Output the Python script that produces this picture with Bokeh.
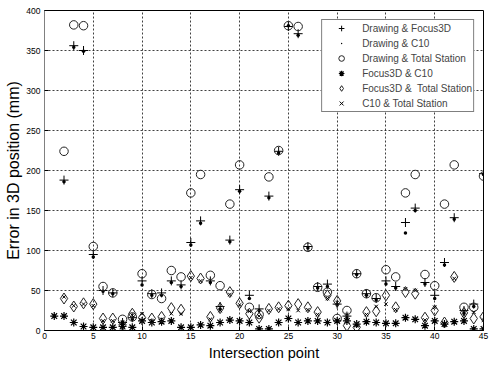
from bokeh.plotting import figure
from bokeh.models import FixedTicker, Legend
from bokeh.embed import file_html
from bokeh.resources import INLINE

nan = float("nan")
points = list(range(1, 46))
drawing_focus = [nan,188,356,350,95,50,47,10,16,62,46,47,62,57,110,137,62,30,113,176,44,27,168,224,380,371,105,55,58,33,18,71,46,40,62,55,135,153,60,44,85,141,25,33,196]
drawing_c10 = [nan,186,354,349,92,49,46,8,14,57,44,44,60,55,107,134,60,27,111,174,40,25,166,222,381,369,103,53,55,32,16,70,44,38,58,53,122,150,58,40,82,139,22,30,195]
drawing_ts = [nan,224,382,381,105,55,47,14,17,71,45,40,75,67,172,195,69,56,158,207,29,20,192,225,381,380,104,54,48,15,25,71,46,41,76,67,172,195,70,56,158,207,29,29,193]
focus_c10 = [18,18,10,5,4,4,4,5,4,12,10,11,12,4,4,7,6,10,13,12,10,2,2,10,15,10,12,12,10,12,12,8,11,10,9,9,16,14,6,12,8,11,12,2,2]
focus_ts = [nan,40,30,34,33,15,15,7,21,16,15,17,28,26,68,65,17,28,48,34,21,16,27,29,31,33,29,23,44,37,6,4,23,24,44,29,48,46,16,25,10,67,22,15,17]
c10_ts = [nan,42,31,33,31,12,12,10,19,21,12,14,21,21,66,62,14,25,45,32,24,18,25,27,27,25,26,20,40,35,20,6,20,30,33,26,52,50,13,29,8,65,19,23,13]

x_ticks = list(range(0, 46, 5))
y_ticks = list(range(0, 401, 50))

FONT = "Liberation Sans"

p = figure(width=500, height=365, output_backend="svg", toolbar_location=None,
           x_range=(0, 45), y_range=(0, 400),
           min_border_left=44, min_border_right=17, min_border_top=10, min_border_bottom=35)
p.outline_line_color = "black"
p.background_fill_color = "white"

for ax in (p.xaxis[0], p.yaxis[0]):
    ax.major_tick_in = 4
    ax.major_tick_out = 0
    ax.minor_tick_line_color = None
    ax.major_label_text_font = FONT
    ax.major_label_text_font_size = "8.5px"
    ax.major_label_text_color = "black"
    ax.axis_label_text_font = FONT
    ax.axis_label_text_font_style = "normal"
    ax.axis_label_text_color = "black"
p.yaxis[0].axis_line_color = "#808080"
p.xaxis[0].axis_line_color = "black"
p.xaxis[0].ticker = FixedTicker(ticks=x_ticks)
p.yaxis[0].ticker = FixedTicker(ticks=y_ticks)
p.xaxis[0].axis_label = "Intersection point"
p.yaxis[0].axis_label = "Error in 3D position (mm)"
p.xaxis[0].axis_label_text_font_size = "14.5px"
p.yaxis[0].axis_label_text_font_size = "16px"
p.xaxis[0].major_label_standoff = 2
p.yaxis[0].major_label_standoff = 4
p.xaxis[0].axis_label_standoff = 3
p.yaxis[0].axis_label_standoff = 1

p.xgrid.ticker = FixedTicker(ticks=x_ticks)
p.ygrid.ticker = FixedTicker(ticks=y_ticks)
for g in (p.xgrid[0], p.ygrid[0]):
    g.grid_line_color = "black"
    g.grid_line_dash = "2 2"
    g.grid_line_width = 1
    g.grid_line_alpha = 0.75

r1 = p.scatter(points, drawing_focus, marker="cross", size=9, line_color="black", line_width=1)
r2 = p.scatter(points, drawing_c10, marker="dot", size=14, line_color="black", fill_color="black")
r3 = p.scatter(points, drawing_ts, marker="circle", size=8.5, line_color="#222222", fill_color=None, line_width=1)
r4 = p.scatter(points, focus_c10, marker="asterisk", size=8, line_color="black", line_width=1.2)
r5 = p.scatter(points, focus_ts, marker="diamond", size=11, line_color="#222222", fill_color=None, line_width=1)
r6 = p.scatter(points, c10_ts, marker="x", size=5, line_color="black", line_width=1)

legend = Legend(items=[
    ("Drawing & Focus3D", [r1]),
    ("Drawing & C10", [r2]),
    ("Drawing & Total Station", [r3]),
    ("Focus3D & C10", [r4]),
    ("Focus3D &  Total Station", [r5]),
    ("C10 & Total Station", [r6]),
], location="top_right")
legend.label_text_font = FONT
legend.label_text_font_size = "10px"
legend.label_height = 14
legend.glyph_height = 14
legend.glyph_width = 36
legend.spacing = 1
legend.padding = 1
legend.margin = 9
legend.label_standoff = 3
legend.border_line_color = "black"
legend.background_fill_alpha = 1
p.add_layout(legend, "center")

open("out.html", "w").write(file_html(p, INLINE))
